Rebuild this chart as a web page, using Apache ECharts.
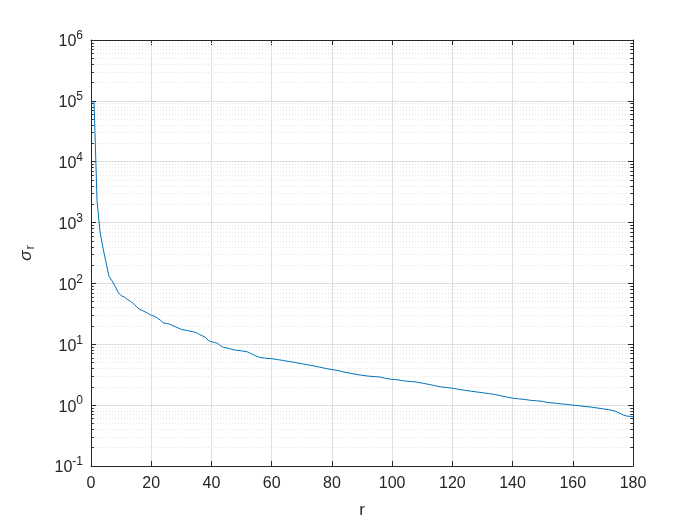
<!DOCTYPE html>
<html>
<head>
<meta charset="utf-8">
<script src="https://cdn.jsdelivr.net/npm/echarts@6/dist/echarts.min.js"></script>
<style>html,body{margin:0;padding:0;background:#fff}#c{width:700px;height:525px}</style>
</head>
<body>
<div id="c"></div>
<script>
// Data (r, singular value)
const rValues = [1,2,3,4,5,6,7,8,9,10,11,12,13,14,15,16,17,18,19,20,21,22,23,24,25,26,27,28,29,30,32,34,35,36,37,38,39,40,41,42,43,44,46,48,50,52,54,56,58,60,62,64,66,68,70,72,74,76,78,80,82,84,86,88,90,92,94,96,98,100,102,104,106,108,110,112,114,116,118,120,122,124,126,128,130,132,134,136,138,140,142,144,146,148,150,152,154,156,158,160,162,164,166,168,170,172,174,176,177,178,180];
const sigmaValues = [100000,2300,700,380,220,130,110,90,72,63,60,55,51,47,42,38,36,34,32,30,29,27,25,22.5,22,21.5,20.5,19.5,18.5,17.6,16.8,16,15.5,14.5,13.8,13,11.5,11,10.7,10.4,9.5,8.9,8.5,8.0,7.8,7.5,6.7,6.1,5.9,5.8,5.6,5.4,5.2,5.0,4.8,4.6,4.4,4.2,4.0,3.85,3.7,3.5,3.35,3.2,3.1,3.0,2.95,2.9,2.75,2.65,2.6,2.5,2.45,2.4,2.3,2.2,2.1,2.0,1.95,1.9,1.82,1.76,1.7,1.65,1.6,1.55,1.5,1.43,1.36,1.3,1.27,1.24,1.2,1.18,1.15,1.1,1.08,1.05,1.03,1.0,0.98,0.95,0.93,0.9,0.87,0.84,0.8,0.72,0.68,0.66,0.65];
const xTicks = [0,20,40,60,80,100,120,140,160,180];
const yMin = 0.1, yMax = 1e6;
const minorMultipliers = [2,3,4,5,6,7,8,9];

const axisColor = '#262626';
const font = 'Liberation Sans, Arial, sans-serif';

// minor grid values for log axis
const minorVals = [];
for (let e = -1; e < 6; e++) {
  for (const m of minorMultipliers) minorVals.push(m * Math.pow(10, e));
}
const minorGrid = minorVals.map(v => ({yAxis: v}));
const minorTicksLeft = minorVals.map(v => [{coord: [0, v]}, {coord: [0.9, v]}]);
const minorTicksRight = minorVals.map(v => [{coord: [179.1, v]}, {coord: [180, v]}]);

const chart = echarts.init(document.getElementById('c'), null, {renderer: 'canvas'});
const ylabel = v => {
  const e = Math.round(Math.log10(v));
  return '{b|10}{s|' + e + '}';
};
chart.setOption({
  animation: false,
  backgroundColor: '#fff',
  grid: {left: 91, right: 67, top: 40, bottom: 59, containLabel: false},
  xAxis: [{
    type: 'value', min: 0, max: 180, interval: 20, position: 'bottom',
    name: 'r', nameLocation: 'middle', nameGap: 36,
    nameTextStyle: {color: axisColor, fontSize: 17, fontFamily: font},
    axisLine: {show: true, onZero: false, lineStyle: {color: axisColor, width: 1}},
    axisTick: {show: true, inside: true, length: 5, lineStyle: {color: axisColor}},
    axisLabel: {color: axisColor, fontSize: 16, fontFamily: font, margin: 10},
    splitLine: {show: true, lineStyle: {color: '#dfdfdf', width: 1}}
  }, {
    type: 'value', min: 0, max: 180, interval: 20, position: 'top',
    axisLine: {show: true, onZero: false, lineStyle: {color: axisColor, width: 1}},
    axisTick: {show: true, inside: true, length: 5, lineStyle: {color: axisColor}},
    axisLabel: {show: false}, splitLine: {show: false}
  }],
  yAxis: [{
    type: 'log', logBase: 10, min: yMin, max: yMax, splitNumber: 7, position: 'left',
    name: '{g|σ}{sub|r}', nameLocation: 'middle', nameGap: 54, nameRotate: 90,
    nameTextStyle: {color: axisColor, fontFamily: font,
      rich: {g: {fontSize: 17, fontStyle: 'italic', fontFamily: font, color: axisColor},
             sub: {fontSize: 13, fontFamily: font, color: axisColor, padding: [9, 0, 0, 1]}}},
    axisLine: {show: true, onZero: false, lineStyle: {color: axisColor, width: 1}},
    axisTick: {show: true, inside: true, length: 5, lineStyle: {color: axisColor}},
    axisLabel: {color: axisColor, margin: 8, formatter: ylabel,
      rich: {b: {fontSize: 16, fontFamily: font, color: axisColor, padding: [4, 0, 0, 0]},
             s: {fontSize: 12, fontFamily: font, color: axisColor, padding: [0, 0, 8, 0]}}},
    splitLine: {show: true, lineStyle: {color: '#dfdfdf', width: 1}}
  }, {
    type: 'log', logBase: 10, min: yMin, max: yMax, splitNumber: 7, position: 'right',
    axisLine: {show: true, onZero: false, lineStyle: {color: axisColor, width: 1}},
    axisTick: {show: true, inside: true, length: 5, lineStyle: {color: axisColor}},
    axisLabel: {show: false}, splitLine: {show: false}
  }],
  series: [{
    type: 'line', xAxisIndex: 0, yAxisIndex: 0,
    data: rValues.map((r, i) => [r, sigmaValues[i]]),
    showSymbol: false, symbol: 'none',
    lineStyle: {color: '#0072BD', width: 1},
    z: 5,
    markLine: {
      silent: true, symbol: 'none', animation: false,
      label: {show: false},
      lineStyle: {color: '#e6e6e6', type: [1, 2], width: 1},
      data: minorGrid, z: 1
    }
  }, {
    type: 'line', xAxisIndex: 0, yAxisIndex: 0, data: [], symbol: 'none',
    markLine: {
      silent: true, symbol: 'none', animation: false,
      label: {show: false},
      lineStyle: {color: axisColor, type: 'solid', width: 1},
      data: minorTicksLeft.concat(minorTicksRight)
    }
  }]
});
</script>
</body>
</html>
